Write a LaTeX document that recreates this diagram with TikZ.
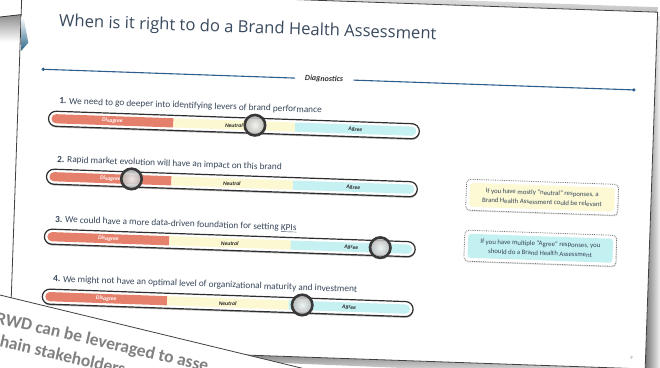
\documentclass[tikz,border=0pt]{standalone}
\usepackage{fontspec}
\setmainfont{Carlito}
\newfontfamily\titlefont{Open Sans}
\usetikzlibrary{shadows}
\definecolor{titlecol}{HTML}{3A4A5E}
\definecolor{qcol}{HTML}{38475A}
\definecolor{diagblue}{HTML}{2E5E8E}
\definecolor{salmon}{HTML}{E5806D}
\definecolor{neutralY}{HTML}{FCF9D2}
\definecolor{agreeC}{HTML}{C6F1F2}
\definecolor{boxY}{HTML}{FCF9D4}
\definecolor{boxC}{HTML}{C3F0F1}
\definecolor{accentblue}{HTML}{2A6688}
\tikzset{
  barframe/.style={draw=black!82, line width=1.2pt, fill=white, rounded corners=7.5pt,
    minimum width=371pt, minimum height=15pt, inner sep=0pt,
    drop shadow={shadow xshift=0.3pt, shadow yshift=-1.3pt, opacity=0.5, fill=black!60}},
  seglabel/.style={inner sep=0pt, font=\bfseries\itshape\fontsize{5.6}{6}\selectfont, text=black!85},
  knob/.style={circle, minimum size=20.5pt, inner sep=0pt, draw=black!78, line width=2.6pt,
    inner color=white, outer color=black!28, fill opacity=0.8, draw opacity=1,
    drop shadow={opacity=0.4, shadow xshift=0.4pt, shadow yshift=-1.2pt}},
  qtext/.style={anchor=mid west, inner sep=0pt, font=\fontsize{9.3}{10}\selectfont, text=qcol},
  calloutframe/.style={draw=black!55, densely dotted, line width=0.8pt, fill=white, rounded corners=4pt,
    minimum width=152pt, minimum height=31pt, inner sep=0pt,
    drop shadow={opacity=0.3, shadow xshift=0.5pt, shadow yshift=-1pt}},
  calloutinner/.style={rounded corners=3pt, minimum width=145pt, minimum height=24pt, inner sep=0pt,
    align=center, font=\fontsize{6.8}{9.5}\selectfont, text=qcol},
  cardtext/.style={anchor=base west, inner sep=0pt, font=\bfseries\fontsize{17.5}{19}\selectfont, text=black!50},
}
\newcommand\slidebar[3]{%
  \node[barframe] (bar#1) at (216.5,#2) {};
  \begin{scope}
    \clip[rounded corners=4.5pt] (34,#2-4.6) rectangle (399,#2+4.6);
    \fill[salmon] (34,#2-4.6) rectangle (156,#2+4.6);
    \fill[neutralY] (156,#2-4.6) rectangle (277.5,#2+4.6);
    \fill[agreeC] (277.5,#2-4.6) rectangle (399,#2+4.6);
  \end{scope}
  \node[seglabel, text=white] (dis#1) at (95,#2) {Disagree};
  \node[seglabel] (neu#1) at (216.5,#2+0.5) {Neutral};
  \node[seglabel] (agr#1) at (338,#2+0.5) {Agree};
  \node[knob] (knob#1) at (#3,#2-0.5) {};
}
\begin{document}
\begin{tikzpicture}[x=1pt,y=-1pt]
\useasboundingbox (0,0) rectangle (660,367);
\begin{scope}
\clip (0,0) rectangle (660,367);
\fill[white] (-5,-5) rectangle (665,372);
% card behind, top left
\shade[top color=black!45, bottom color=white] (0,17) -- (22,14.5) -- (21,42) -- (0,42) -- cycle;
\draw[black!80, line width=0.8pt] (0,17) -- (22,14.5);
% main slide
\begin{scope}[shift={(22,-10)}, rotate=-2, transform shape]
  \shade[top color=white, bottom color=black!25] (0,-5) rectangle (636,0);
  \shade[left color=black!55, right color=white] (636,4) -- (640,4) -- (652,365) -- (636,365) -- cycle;
  \shade[top color=black!60, bottom color=white] (0,357) -- (636,357) -- (636,366) -- (0,362) -- cycle;
  \filldraw[fill=white, draw=black!75, line width=0.8pt] (0,0) rectangle (636,357);
  \node[anchor=base west, inner sep=0pt, font=\titlefont\fontsize{16.6}{18}\selectfont, text=titlecol] (title) at (38,35) {When is it right to do a Brand Health Assessment};
  \coordinate (dl) at (24,78.5);
  \coordinate (dr) at (615,78.5);
  \node[font=\bfseries\itshape\fontsize{8}{9}\selectfont, text=black!80, inner xsep=10pt, inner ysep=1pt] (diag) at (305,78.5) {Diagnostics};
  \draw[diagblue, line width=1.1pt] (dl) -- (diag);
  \draw[diagblue, line width=1.1pt] (diag) -- (dr);
  \fill[diagblue] (dl) circle (1.8pt);
  \fill[diagblue] (dr) circle (1.8pt);
  \node[qtext] (q1) at (41,110) {\textbf{1.} We need to go deeper into identifying levers of brand performance};
  \slidebar{1}{127.5}{237.5}
  \node[qtext] (q2) at (41,168.5) {\textbf{2.} Rapid market evolution will have an impact on this brand};
  \slidebar{2}{185.5}{116}
  \node[qtext] (q3) at (41,228.5) {\textbf{3.} We could have a more data-driven foundation for setting \underline{KPIs}};
  \slidebar{3}{245.5}{367}
  \node[qtext] (q4) at (41,288) {\textbf{4.} We might not have an optimal level of organizational maturity and investment};
  \slidebar{4}{305.5}{291}
  \node[calloutframe] (box1) at (527,189) {};
  \node[calloutinner, fill=boxY] (boxin1) at (box1.center) {If you have mostly “neutral” responses, a\\Brand Health Assessment could be relevant};
  \node[calloutframe] (box2) at (527,240) {};
  \node[calloutinner, fill=boxC] (boxin2) at (box2.center) {If you have multiple “Agree” responses, you\\should do a Brand Health Assessment};
  \node[font=\fontsize{5}{6}\selectfont, text=black!45, inner sep=0pt] (pnum) at (622,346.5) {9};
\end{scope}
% blue accent on the slide edge
\shade[top color=white, bottom color=accentblue] (21,17) -- (23.5,17) -- (28.3,42.7) -- (21.3,50.7) -- cycle;
% foreground card
\fill[white] (-20,290.2) -- (340,377.4) -- (340,400) -- (-20,400) -- cycle;
\draw[black!75, line width=0.8pt] (-20,290.2) -- (340,377.4);
\begin{scope}[shift={(-5,323)}, rotate=-13, transform shape]
  \node[cardtext] (rwd1) at (0,0) {RWD can be leveraged to asse};
  \node[cardtext] (rwd2) at (9,22) {hain stakeholders};
\end{scope}
\end{scope}
\end{tikzpicture}
\end{document}
